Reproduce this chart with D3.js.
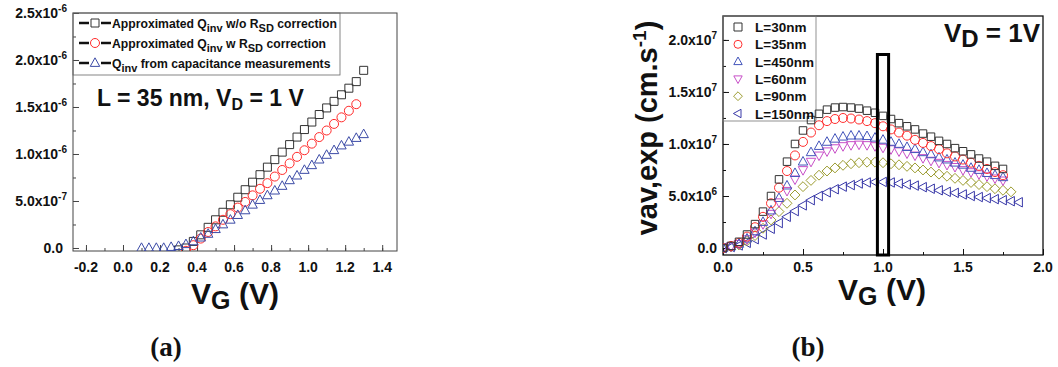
<!DOCTYPE html>
<html><head><meta charset="utf-8">
<script src="https://cdn.jsdelivr.net/npm/d3@7"></script>
<style>
body{margin:0;background:#fff}
svg{display:block}
text{font-family:"Liberation Sans",Arial,sans-serif;font-weight:bold;fill:#111}
</style>
</head><body><svg id="c" width="1058" height="367"></svg>
<script>
// ---------- Panel (a) data ----------
const vgSqA = [0.30,0.34,0.38,0.42,0.46,0.50,0.54,0.58,0.62,0.66,0.70,0.74,0.78,0.82,0.86,0.90,0.94,0.98,1.02,1.06,1.10,1.14,1.18,1.22,1.26,1.30];
const qSqA  = [-0.02,0.00,0.07,0.14,0.22,0.30,0.38,0.46,0.54,0.62,0.70,0.78,0.86,0.94,1.02,1.10,1.18,1.26,1.34,1.42,1.49,1.56,1.63,1.70,1.77,1.89];
const vgCiA = [0.34,0.38,0.42,0.46,0.50,0.54,0.58,0.62,0.66,0.70,0.74,0.78,0.82,0.86,0.90,0.94,0.98,1.02,1.06,1.10,1.14,1.18,1.22,1.26];
const qCiA  = [-0.03,0.03,0.10,0.17,0.23,0.30,0.36,0.43,0.49,0.56,0.63,0.69,0.76,0.83,0.90,0.97,1.04,1.11,1.18,1.25,1.32,1.39,1.46,1.53];
const vgTrA = [0.10,0.14,0.18,0.22,0.26,0.30,0.34,0.38,0.42,0.46,0.50,0.54,0.58,0.62,0.66,0.70,0.74,0.78,0.82,0.86,0.90,0.94,0.98,1.02,1.06,1.10,1.14,1.18,1.22,1.26,1.30];
const qTrA  = [0.00,0.00,0.00,0.00,0.01,0.02,0.04,0.07,0.11,0.15,0.20,0.25,0.30,0.35,0.40,0.46,0.51,0.56,0.61,0.66,0.72,0.77,0.83,0.88,0.94,0.99,1.04,1.09,1.13,1.17,1.21]; // x1e-6
const xTicksA = [-0.2,0.0,0.2,0.4,0.6,0.8,1.0,1.2,1.4];
const xTickLabelsA = ["-0.2","0.0","0.2","0.4","0.6","0.8","1.0","1.2","1.4"];
const yTicksA = [0,0.5e-6,1.0e-6,1.5e-6,2.0e-6,2.5e-6];
const yTickBaseA = ["0.0","5.0x10","1.0x10","1.5x10","2.0x10","2.5x10"];
const yTickExpA  = ["","-7","-6","-6","-6","-6"];

// ---------- Panel (b) data ----------
const vgB   = [0.00,0.05,0.10,0.15,0.20,0.25,0.30,0.35,0.40,0.45,0.50,0.55,0.60,0.65,0.70,0.75,0.80,0.85,0.90,0.95,1.00,1.05,1.10,1.15,1.20,1.25,1.30,1.35,1.40,1.45,1.50,1.55,1.60,1.65,1.70,1.75];
const vgB80 = [0.00,0.05,0.10,0.15,0.20,0.25,0.30,0.35,0.40,0.45,0.50,0.55,0.60,0.65,0.70,0.75,0.80,0.85,0.90,0.95,1.00,1.05,1.10,1.15,1.20,1.25,1.30,1.35,1.40,1.45,1.50,1.55,1.60,1.65,1.70,1.75,1.80];
const vgB85 = [0.00,0.05,0.10,0.15,0.20,0.25,0.30,0.35,0.40,0.45,0.50,0.55,0.60,0.65,0.70,0.75,0.80,0.85,0.90,0.95,1.00,1.05,1.10,1.15,1.20,1.25,1.30,1.35,1.40,1.45,1.50,1.55,1.60,1.65,1.70,1.75,1.80,1.85];
// velocities in 1e6 cm/s
const vL30  = [0.0,0.2,0.6,1.3,2.3,3.5,5.0,6.6,8.3,10.0,11.3,12.3,12.9,13.3,13.5,13.55,13.5,13.4,13.2,13.0,12.7,12.4,12.0,11.7,11.4,11.0,10.7,10.3,10.0,9.6,9.3,9.0,8.6,8.3,7.9,7.6];
const vL35  = [0.0,0.2,0.5,1.1,2.0,3.0,4.3,5.8,7.4,8.9,10.2,11.1,11.8,12.2,12.4,12.5,12.45,12.35,12.2,12.0,11.7,11.4,11.1,10.8,10.4,10.1,9.8,9.5,9.1,8.8,8.5,8.2,7.9,7.6,7.3,7.0];
const vL450 = [0.0,0.15,0.4,0.9,1.6,2.5,3.6,4.8,6.0,7.2,8.3,9.2,9.8,10.2,10.5,10.7,10.8,10.8,10.75,10.6,10.4,10.2,10.0,9.7,9.5,9.2,9.0,8.7,8.5,8.2,8.0,7.7,7.5,7.2,7.0,6.8];
const vL60  = [0.0,0.15,0.4,0.85,1.5,2.3,3.3,4.4,5.5,6.6,7.5,8.3,8.9,9.3,9.6,9.8,9.9,9.95,9.9,9.8,9.65,9.5,9.3,9.1,8.9,8.65,8.4,8.2,8.0,7.8,7.5,7.3,7.1,6.9,6.7,6.5];
const vL90  = [0.0,0.1,0.3,0.7,1.2,1.9,2.7,3.5,4.3,5.1,5.9,6.5,7.0,7.4,7.7,7.95,8.1,8.2,8.25,8.25,8.2,8.1,8.0,7.85,7.7,7.5,7.3,7.1,6.9,6.7,6.5,6.3,6.1,5.9,5.7,5.55,5.4];
const vL150 = [0.0,0.1,0.25,0.5,0.85,1.3,1.85,2.4,3.0,3.55,4.1,4.6,5.0,5.35,5.65,5.9,6.05,6.2,6.3,6.35,6.35,6.3,6.2,6.1,6.0,5.85,5.7,5.55,5.4,5.3,5.15,5.0,4.9,4.8,4.7,4.6,4.5,4.4];
const legendB = ["L=30nm","L=35nm","L=450nm","L=60nm","L=90nm","L=150nm"];
const xTicksB = [0.0,0.5,1.0,1.5,2.0];
const xTickLabelsB = ["0.0","0.5","1.0","1.5","2.0"];
const yTicksB = [0,5e6,1e7,1.5e7,2e7];
const yTickBaseB = ["0.0","5.0x10","1.0x10","1.5x10","2.0x10"];
const yTickExpB  = ["","6","7","7","7"];

// ---------- helpers ----------
function shapePath(type, s){
  const h = s/2;
  switch(type){
    case "square": return `M${-h},${-h}H${h}V${h}H${-h}Z`;
    case "circle": return `M${-h},0A${h},${h} 0 1,0 ${h},0A${h},${h} 0 1,0 ${-h},0Z`;
    case "up": return `M0,${-h*1.15}L${h*1.05},${h*0.75}L${-h*1.05},${h*0.75}Z`;
    case "down": return `M0,${h*1.15}L${h*1.05},${-h*0.75}L${-h*1.05},${-h*0.75}Z`;
    case "diamond": return `M0,${-h*1.1}L${h*1.1},0L0,${h*1.1}L${-h*1.1},0Z`;
    case "left": return `M${-h*1.15},0L${h*0.75},${-h*1.05}L${h*0.75},${h*1.05}Z`;
  }
}
const svg = d3.select("#c");

function supLabel(sel, base, exp, baseSize, expSize){
  sel.append("tspan").text(base).attr("font-size", baseSize);
  if(exp) sel.append("tspan").text(exp).attr("font-size", expSize).attr("dy", -baseSize*0.45);
}

// ================= Panel (a) =================
const xA = d3.scaleLinear().domain([-0.27,1.48]).range([73,397]);
const yA = d3.scaleLinear().domain([-0.032e-6,2.5e-6]).range([251,13]);
const gA = svg.append("g");
gA.append("clipPath").attr("id","clipA").append("rect")
  .attr("x",73).attr("y",13).attr("width",324).attr("height",238);

const xMinorA = [-0.2,-0.1,0,0.1,0.2,0.3,0.4,0.5,0.6,0.7,0.8,0.9,1.0,1.1,1.2,1.3,1.4];
gA.append("g").attr("transform","translate(0,251)")
  .call(d3.axisBottom(xA).tickValues(xMinorA).tickSize(-3).tickFormat(""))
  .call(g=>{g.select(".domain").remove(); g.selectAll("line").attr("stroke","#444");});
gA.append("g").attr("transform","translate(0,251)")
  .call(d3.axisBottom(xA).tickValues(xTicksA).tickSize(-6).tickFormat(""))
  .call(g=>{g.select(".domain").remove(); g.selectAll("line").attr("stroke","#444");});
const yMinorA = [0,0.25e-6,0.5e-6,0.75e-6,1e-6,1.25e-6,1.5e-6,1.75e-6,2e-6,2.25e-6];
gA.append("g").attr("transform","translate(73,0)")
  .call(d3.axisLeft(yA).tickValues(yMinorA).tickSize(-3).tickFormat(""))
  .call(g=>{g.select(".domain").remove(); g.selectAll("line").attr("stroke","#444");});
gA.append("g").attr("transform","translate(73,0)")
  .call(d3.axisLeft(yA).tickValues(yTicksA).tickSize(-6).tickFormat(""))
  .call(g=>{g.select(".domain").remove(); g.selectAll("line").attr("stroke","#444");});

gA.append("rect").attr("x",73).attr("y",13).attr("width",324).attr("height",238)
  .attr("fill","none").attr("stroke","#444").attr("stroke-width",1);

xTicksA.forEach((v,i)=>{
  gA.append("text").attr("x",xA(v)).attr("y",272).attr("text-anchor","middle")
    .attr("font-size",14).text(xTickLabelsA[i]);
});
yTicksA.forEach((v,i)=>{
  const t = gA.append("text").attr("x",yTickExpA[i]?67:63).attr("y",yA(v)+5).attr("text-anchor","end");
  supLabel(t, yTickBaseA[i], yTickExpA[i], 14, 10);
});

const seriesA = [
  {x:vgSqA, y:qSqA, type:"square", color:"#333333", size:8},
  {x:vgCiA, y:qCiA, type:"circle", color:"#ff2a2a", size:9},
  {x:vgTrA, y:qTrA, type:"up", color:"#3b4aa6", size:9}
];
const dA = gA.append("g").attr("clip-path","url(#clipA)");
seriesA.forEach(s=>{
  dA.append("g").selectAll("path").data(s.x.map((v,i)=>[v,s.y[i]*1e-6])).join("path")
    .attr("transform",d=>`translate(${xA(d[0])},${yA(d[1])})`)
    .attr("d",shapePath(s.type,s.size)).attr("fill","none")
    .attr("stroke",s.color).attr("stroke-width",1);
});

gA.append("rect").attr("x",73).attr("y",13).attr("width",267).attr("height",62)
  .attr("fill","none").attr("stroke","#666").attr("stroke-width",0.8);
const legA = [
  {parts:[["Approximated Q",0],["inv",1],[" w/o R",0],["SD",1],[" correction",0]]},
  {parts:[["Approximated Q",0],["inv",1],[" w R",0],["SD",1],[" correction",0]]},
  {parts:[["Q",0],["inv",1],[" from capacitance measurements",0]]}
];
legA.forEach((l,i)=>{
  const cy = 23 + i*20;
  gA.append("line").attr("x1",79).attr("x2",89).attr("y1",cy).attr("y2",cy).attr("stroke","#111").attr("stroke-width",2.5);
  gA.append("line").attr("x1",101).attr("x2",111).attr("y1",cy).attr("y2",cy).attr("stroke","#111").attr("stroke-width",2.5);
  gA.append("path").attr("transform",`translate(95,${cy})`).attr("d",shapePath(seriesA[i].type,seriesA[i].size))
    .attr("fill","none").attr("stroke",seriesA[i].color).attr("stroke-width",1);
  const t = gA.append("text").attr("x",112).attr("y",cy+4.5).attr("font-size",12.2);
  let prevSub=false;
  l.parts.forEach(p=>{
    const ts = t.append("tspan").text(p[0]);
    if(p[1]){ ts.attr("font-size",11).attr("dy",prevSub?0:4); prevSub=true; }
    else { ts.attr("font-size",12.2).attr("dy",prevSub?-4:0); prevSub=false; }
  });
});

const annA = gA.append("text").attr("x",97).attr("y",106).attr("font-size",23);
annA.append("tspan").text("L = 35 nm, V");
annA.append("tspan").text("D").attr("font-size",16).attr("dy",4);
annA.append("tspan").text(" = 1 V").attr("dy",-4);

const xtA = gA.append("text").attr("x",235).attr("y",304).attr("text-anchor","middle").attr("font-size",30);
xtA.append("tspan").text("V");
xtA.append("tspan").text("G").attr("font-size",25).attr("dy",5);
xtA.append("tspan").text(" (V)").attr("dy",-5);

// ================= Panel (b) =================
const xB = d3.scaleLinear().domain([0,2]).range([723,1043]);
const yB = d3.scaleLinear().domain([-0.67e6,2.23e7]).range([255,16]);
const gB = svg.append("g");
gB.append("clipPath").attr("id","clipB").append("rect")
  .attr("x",723).attr("y",16).attr("width",320).attr("height",239);

const xMinorB = [0,0.25,0.5,0.75,1,1.25,1.5,1.75,2];
gB.append("g").attr("transform","translate(0,255)")
  .call(d3.axisBottom(xB).tickValues(xMinorB).tickSize(-3).tickFormat(""))
  .call(g=>{g.select(".domain").remove(); g.selectAll("line").attr("stroke","#111");});
gB.append("g").attr("transform","translate(0,255)")
  .call(d3.axisBottom(xB).tickValues(xTicksB).tickSize(-6).tickFormat(""))
  .call(g=>{g.select(".domain").remove(); g.selectAll("line").attr("stroke","#111");});
const yMinorB = [0,2.5e6,5e6,7.5e6,1e7,1.25e7,1.5e7,1.75e7,2e7];
gB.append("g").attr("transform","translate(723,0)")
  .call(d3.axisLeft(yB).tickValues(yMinorB).tickSize(-3).tickFormat(""))
  .call(g=>{g.select(".domain").remove(); g.selectAll("line").attr("stroke","#111");});
gB.append("g").attr("transform","translate(723,0)")
  .call(d3.axisLeft(yB).tickValues(yTicksB).tickSize(-6).tickFormat(""))
  .call(g=>{g.select(".domain").remove(); g.selectAll("line").attr("stroke","#111");});

gB.append("rect").attr("x",723).attr("y",16).attr("width",320).attr("height",239)
  .attr("fill","none").attr("stroke","#111").attr("stroke-width",1.3);

xTicksB.forEach((v,i)=>{
  gB.append("text").attr("x",xB(v)).attr("y",272).attr("text-anchor","middle")
    .attr("font-size",14).text(xTickLabelsB[i]);
});
yTicksB.forEach((v,i)=>{
  const t = gB.append("text").attr("x",717).attr("y",yB(v)+5).attr("text-anchor","end");
  supLabel(t, yTickBaseB[i], yTickExpB[i], 14, 10);
});

gB.append("rect").attr("x",723).attr("y",16).attr("width",93).attr("height",105)
  .attr("fill","none").attr("stroke","#777").attr("stroke-width",0.8);

const seriesB = [
  {x:vgB,   y:vL30,  type:"square",  color:"#333333", size:7.5},
  {x:vgB,   y:vL35,  type:"circle",  color:"#ff3030", size:9},
  {x:vgB,   y:vL450, type:"up",      color:"#4455bb", size:9},
  {x:vgB,   y:vL60,  type:"down",    color:"#c850c8", size:9},
  {x:vgB80, y:vL90,  type:"diamond", color:"#9c9c30", size:9},
  {x:vgB85, y:vL150, type:"left",    color:"#3838a8", size:9}
];
const dB = gB.append("g").attr("clip-path","url(#clipB)");
seriesB.slice().reverse().forEach(s=>{
  dB.append("g").selectAll("path").data(s.x.map((v,i)=>[v,s.y[i]*1e6])).join("path")
    .attr("transform",d=>`translate(${xB(d[0])},${yB(d[1])})`)
    .attr("d",shapePath(s.type,s.size)).attr("fill","none")
    .attr("stroke",s.color).attr("stroke-width",1);
});
legendB.forEach((name,i)=>{
  const cy = 27 + i*17.3;
  gB.append("path").attr("transform",`translate(738,${cy})`).attr("d",shapePath(seriesB[i].type,8))
    .attr("fill","none").attr("stroke",seriesB[i].color).attr("stroke-width",1);
  gB.append("text").attr("x",755).attr("y",cy+5).attr("font-size",13.5).text(name);
});

const boxVG = [0.965,1.035];
const boxTopV = 1.86e7;
gB.append("rect").attr("x",xB(boxVG[0])).attr("y",yB(boxTopV))
  .attr("width",xB(boxVG[1])-xB(boxVG[0])).attr("height",255-yB(boxTopV))
  .attr("fill","none").attr("stroke","#000").attr("stroke-width",3);

const annB = gB.append("text").attr("x",1040).attr("y",42).attr("text-anchor","end").attr("font-size",26);
annB.append("tspan").text("V");
annB.append("tspan").text("D").attr("font-size",24).attr("dy",5);
annB.append("tspan").text(" = 1V").attr("dy",-5);

const xtB = gB.append("text").attr("x",882).attr("y",300).attr("text-anchor","middle").attr("font-size",30);
xtB.append("tspan").text("V");
xtB.append("tspan").text("G").attr("font-size",25).attr("dy",5);
xtB.append("tspan").text(" (V)").attr("dy",-5);

const ytB = gB.append("text").attr("transform","translate(657,128) rotate(-90)")
  .attr("text-anchor","middle").attr("font-size",29);
ytB.append("tspan").text("vav,exp (cm.s");
ytB.append("tspan").text("-1").attr("font-size",19).attr("dy",-11);
ytB.append("tspan").text(")").attr("dy",11);

svg.append("text").attr("x",166).attr("y",356).attr("text-anchor","middle")
  .style("font-family","'Liberation Serif','Times New Roman',serif").attr("font-size",27).text("(a)");
svg.append("text").attr("x",808).attr("y",356).attr("text-anchor","middle")
  .style("font-family","'Liberation Serif','Times New Roman',serif").attr("font-size",27).text("(b)");
</script>
</body></html>
